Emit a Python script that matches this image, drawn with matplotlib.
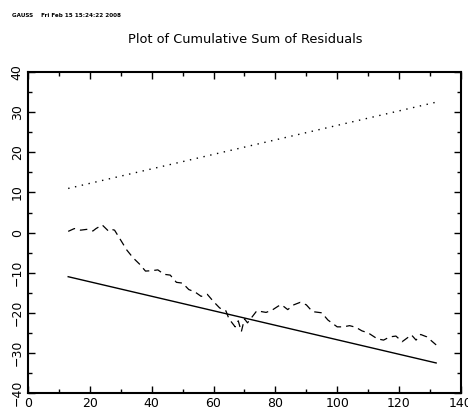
import numpy as np
import matplotlib
matplotlib.use('Agg')
import matplotlib.pyplot as plt
from matplotlib.ticker import MultipleLocator

# cumulative sum of residuals
t = [13, 15, 17, 19, 21, 22, 24, 26, 27, 28, 30, 32, 34, 36, 38, 40, 42, 44, 46, 48,
     50, 52, 54, 56, 58, 60, 62, 64, 65, 67, 68, 69, 70, 71, 72, 74, 77, 79, 81, 82,
     84, 86, 88, 90, 92, 95, 97, 100, 102, 104, 106, 108, 110, 113, 115, 117, 119,
     121, 124, 125.5, 127, 129, 132]
cusum = [0.3, 1.0, 0.6, 0.8, 0.4, 1.0, 1.9, 0.4, 0.8, 0.6, -1.9, -4.4, -6.3, -7.8,
         -9.6, -9.5, -9.3, -10.4, -10.6, -12.4, -12.6, -14.2, -14.8, -15.9, -15.4,
         -17.2, -18.8, -19.5, -21.5, -23.5, -22.0, -24.7, -21.5, -22.5, -21.5, -19.5,
         -19.9, -19.3, -18.3, -18.0, -19.2, -18.0, -17.4, -18.0, -19.7, -20.0, -21.8,
         -23.5, -23.5, -23.2, -23.6, -24.5, -25.0, -26.5, -26.8, -26.0, -25.8, -27.2,
         -25.5, -26.8, -25.4, -26.0, -28.0]

# 5% significance lines
bound_t = [13, 132]
upper = [11.0, 32.5]
lower = [-11.0, -32.5]

fig = plt.figure(figsize=(4.68, 4.12), dpi=100)
ax = fig.add_axes([0.0598, 0.046, 0.925, 0.779])

ax.plot(t, cusum, color='black', lw=0.9, linestyle=(0, (6, 4)))
ax.plot(bound_t, upper, color='black', lw=1.0, linestyle=(0, (1, 4)))
ax.plot(bound_t, lower, color='black', lw=1.0)

ax.set_xlim(0, 140)
ax.set_ylim(-40, 40)
ax.xaxis.set_major_locator(MultipleLocator(20))
ax.xaxis.set_minor_locator(MultipleLocator(10))
ax.yaxis.set_major_locator(MultipleLocator(10))
ax.yaxis.set_minor_locator(MultipleLocator(5))
ax.tick_params(which='both', direction='in', top=True, right=True, width=1.0,
               labelsize=9, pad=3)
ax.tick_params(which='major', length=5)
ax.tick_params(which='minor', length=3)
for lab in ax.get_yticklabels():
    lab.set_rotation(90)
    lab.set_va('center')
for s in ax.spines.values():
    s.set_linewidth(1.5)

fig.text(0.523, 0.903, 'Plot of Cumulative Sum of Residuals', ha='center', va='center', fontsize=9.3)
fig.text(0.026, 0.963, 'GAUSS    Fri Feb 15 15:24:22 2008', ha='left', va='center',
         fontsize=4.1, fontweight='bold')

fig.savefig('out.png', dpi=100)
